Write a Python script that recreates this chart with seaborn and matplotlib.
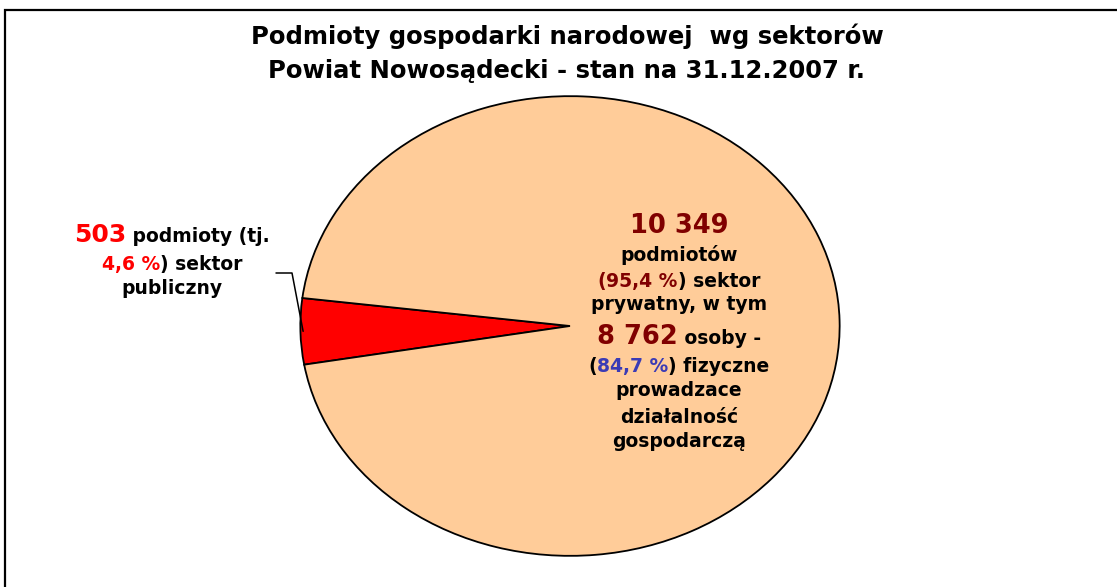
import matplotlib
matplotlib.use("Agg")
import matplotlib.pyplot as plt
import seaborn as sns
import numpy as np
from matplotlib.lines import Line2D
from matplotlib.patches import Rectangle

# ---- data ----
sectors = ["sektor publiczny", "sektor prywatny"]
counts = [503, 10349]
shares = ["4,6 %", "95,4 %"]
private_persons = 8762
private_persons_share = "84,7 %"
slice_colors = ["#FF0000", "#FFCC99"]
title_lines = ["Podmioty gospodarki narodowej  wg sektorów",
               "Powiat Nowosądecki - stan na 31.12.2007 r."]

sns.set_theme(style="white")
plt.rcParams['font.family'] = ['DejaVu Sans']

W, H = 1117, 587
fig = plt.figure(figsize=(W / 100, H / 100), dpi=100)
fig.patch.set_facecolor("white")

# pie axes placed as an ellipse (pixel box)
left, right, top, bottom = 299, 841, 95, 557
ax = fig.add_axes([left / W, (H - bottom) / H, (right - left) / W, (bottom - top) / H])
wedges, _ = ax.pie(counts, colors=slice_colors, startangle=173, counterclock=True,
                   wedgeprops=dict(edgecolor="black", linewidth=1.3))
ax.set_aspect("auto")
ax.set_xlim(-1.005, 1.005)
ax.set_ylim(-1.005, 1.005)
ax.axis("off")

# figure border
fig.patches.append(Rectangle((5 / W, -0.1), 1.2, (H - 10) / H + 0.1, transform=fig.transFigure,
                             fill=False, edgecolor="black", linewidth=1.6))

renderer = fig.canvas.get_renderer()


def px(x, y):
    return x / W, (H - y) / H


def rich_line(segments, cx, by):
    """segments: list of (text, color, size). Centered at cx (pixel), baseline by (pixel from top)."""
    texts = []
    widths = []
    for s, c, sz in segments:
        t = fig.text(0, 0, s, color=c, fontsize=sz, fontweight="bold",
                     ha="left", va="baseline")
        texts.append(t)
    for t in texts:
        widths.append(t.get_window_extent(renderer).width)
    total = sum(widths)
    x = cx - total / 2
    for t, w in zip(texts, widths):
        t.set_position(px(x, by))
        x += w


# title
rich_line([(title_lines[0], "black", 17.5)], 567, 44)
rich_line([(title_lines[1], "black", 17.5)], 567, 78)

RED = "#FF0000"
DRED = "#800000"
BLUE = "#3B3BB5"
K = "black"
BS = 13.5

# left label
lx = 172
rich_line([(f"{counts[0]}", RED, 18), (" podmioty (tj.", K, BS)], lx, 242)
rich_line([(shares[0], RED, BS), (") sektor", K, BS)], lx, 270)
rich_line([("publiczny", K, BS)], lx, 294)

# right label
rx = 679
big2 = f"{counts[1]:,}".replace(",", " ")
pp = f"{private_persons:,}".replace(",", " ")
rich_line([(big2, DRED, 18.5)], rx, 233)
rich_line([("podmiotów", K, BS)], rx, 261)
rich_line([("(", DRED, BS), (shares[1], DRED, BS), (") sektor", K, BS)], rx, 287)
rich_line([("prywatny, w tym", K, BS)], rx, 310)
rich_line([(pp, DRED, 18.5), (" osoby -", K, BS)], rx, 344)
rich_line([("(", K, BS), (private_persons_share, BLUE, BS), (") fizyczne", K, BS)], rx, 372)
rich_line([("prowadzace", K, BS)], rx, 396)
rich_line([("działalność", K, BS)], rx, 423)
rich_line([("gospodarczą", K, BS)], rx, 447)

# leader line from the red wedge middle to label
w0 = wedges[0]
mid = np.deg2rad((w0.theta1 + w0.theta2) / 2)
pt = ax.transData.transform((0.99 * np.cos(mid), 0.99 * np.sin(mid)))
ptx, pty = pt[0], H - pt[1]
corner = (292, 273)
end = (276, 273)
fig.add_artist(Line2D([px(*end)[0], px(*corner)[0], ptx / W],
                      [px(*end)[1], px(*corner)[1], pt[1] / H],
                      transform=fig.transFigure, color="black", linewidth=1.1))

fig.savefig("out.png", dpi=100, facecolor="white")
